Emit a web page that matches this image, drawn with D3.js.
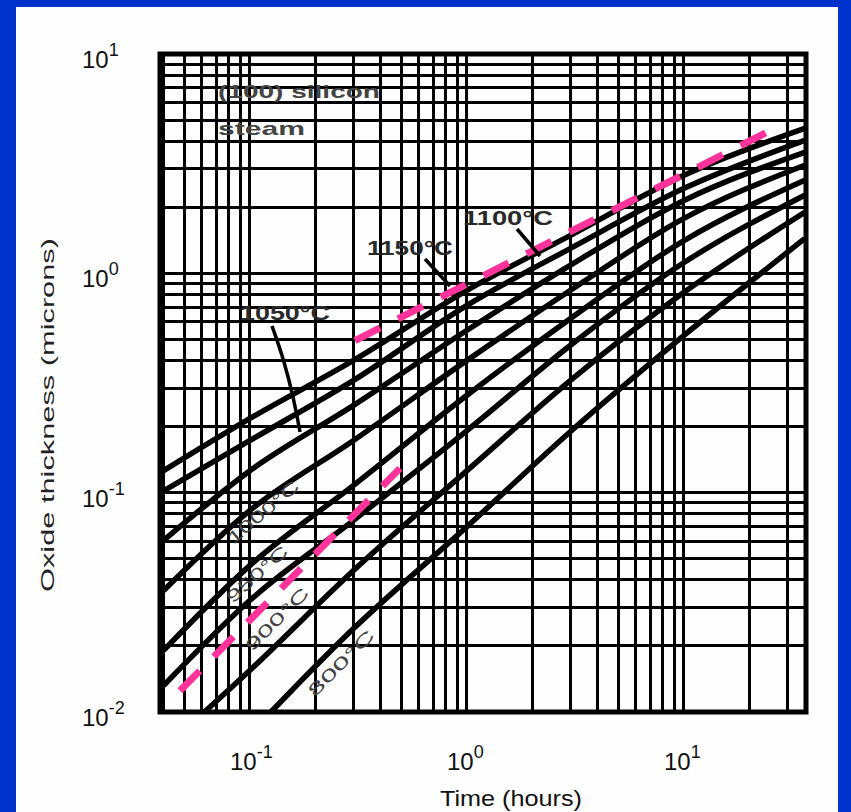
<!DOCTYPE html>
<html>
<head>
<meta charset="utf-8">
<script src="https://cdn.jsdelivr.net/npm/d3@7"></script>
<style>
  body { margin: 0; background: #0033cc; }
  text { font-family: "Liberation Sans", Arial, sans-serif; }
</style>
</head>
<body>
<div id="chart"></div>
<script>
// oxidation time (hours) where the curves were read
var times = [0.04, 0.1, 0.3, 1, 3, 10, 36];

// oxide thickness (microns)
var th1200 = [0.126, 0.218, 0.401, 0.837, 1.49, 2.80, 4.58];
var th1150 = [0.102, 0.173, 0.325, 0.715, 1.30, 2.44, 4.04];
var th1100 = [0.0606, 0.126, 0.250, 0.550, 1.09, 2.15, 3.56];
var th1050 = [0.0358, 0.083, 0.173, 0.401, 0.837, 1.78, 3.11];
var th1000 = [0.0191, 0.0466, 0.108, 0.278, 0.623, 1.41, 2.66];
var th950  = [0.0132, 0.0323, 0.0748, 0.192, 0.470, 1.12, 2.27];
var th900  = [0.0068, 0.0155, 0.0442, 0.126, 0.325, 0.819, 1.90];
var th800  = [0.0032, 0.0080, 0.0240, 0.070, 0.190, 0.521, 1.44];

// pink dashed guides: [time, thickness] end points
var linearGuide    = [[0.0476, 0.0125], [0.491, 0.129]];
var parabolicGuide = [[0.305, 0.494], [26.3, 4.59]];

var xTicks = [0.1, 1, 10];
var xExp = ["-1", "0", "1"];
var yTicks = [0.01, 0.1, 1, 10];
var yExp = ["-2", "-1", "0", "1"];

var W = 851, H = 812;
var margin = {top: 54, right: 45, bottom: 100, left: 160};

var svg = d3.select("#chart").append("svg")
    .attr("width", W)
    .attr("height", H);

// blue slide border + white page
svg.append("rect").attr("width", W).attr("height", H).attr("fill", "#0033cc");
svg.append("rect").attr("x", 16).attr("y", 7).attr("width", 822).attr("height", H - 7).attr("fill", "#fefefe");

var x = d3.scaleLog().domain([0.0385, 36.5]).range([margin.left, W - margin.right]);
var y = d3.scaleLog().domain([0.01, 10]).range([H - margin.bottom, margin.top]);

svg.append("clipPath").attr("id", "plotclip")
  .append("rect")
    .attr("x", x.range()[0]).attr("y", y.range()[1])
    .attr("width", x.range()[1] - x.range()[0])
    .attr("height", y.range()[0] - y.range()[1]);

// log grid
function logGrid(scale) {
  var d = scale.domain(), out = [];
  for (var e = Math.floor(Math.log10(d[0])); e <= Math.ceil(Math.log10(d[1])); e++) {
    for (var k = 1; k < 10; k++) {
      var v = k * Math.pow(10, e);
      if (v >= d[0] && v <= d[1]) out.push(v);
    }
  }
  return out;
}

var grid = svg.append("g").attr("shape-rendering", "crispEdges");
grid.selectAll(".vx").data(logGrid(x)).enter().append("line")
    .attr("x1", function(d) { return x(d); }).attr("x2", function(d) { return x(d); })
    .attr("y1", y.range()[1]).attr("y2", y.range()[0])
    .attr("stroke", "#000").attr("stroke-width", 3);
grid.selectAll(".hy").data(logGrid(y)).enter().append("line")
    .attr("y1", function(d) { return y(d); }).attr("y2", function(d) { return y(d); })
    .attr("x1", x.range()[0]).attr("x2", x.range()[1])
    .attr("stroke", "#000").attr("stroke-width", 3);

// curves
var series = [th1200, th1150, th1100, th1050, th1000, th950, th900, th800];
var line = d3.line()
    .x(function(d) { return x(d[0]); })
    .y(function(d) { return y(d[1]); })
    .curve(d3.curveMonotoneX);

var plot = svg.append("g").attr("clip-path", "url(#plotclip)");
plot.selectAll(".curve").data(series).enter().append("path")
    .attr("d", function(s) { return line(times.map(function(t, i) { return [t, s[i]]; })); })
    .attr("fill", "none")
    .attr("stroke", "#000")
    .attr("stroke-width", 5.5);

plot.selectAll(".guide").data([linearGuide, parabolicGuide]).enter().append("path")
    .attr("d", d3.line().x(function(d) { return x(d[0]); }).y(function(d) { return y(d[1]); }))
    .attr("fill", "none")
    .attr("stroke", "#ff3399")
    .attr("stroke-width", 7)
    .attr("stroke-dasharray", "28,20");

// frame
svg.append("rect")
    .attr("x", x.range()[0]).attr("y", y.range()[1])
    .attr("width", x.range()[1] - x.range()[0])
    .attr("height", y.range()[0] - y.range()[1])
    .attr("fill", "none").attr("stroke", "#000").attr("stroke-width", 5);

// tick labels
xTicks.forEach(function(v, i) {
  var t = svg.append("text").attr("x", x(v) - 20).attr("y", 770)
      .attr("font-size", 24).attr("fill", "#111");
  t.append("tspan").text("10");
  t.append("tspan").attr("dy", -12).attr("font-size", 18).text(xExp[i]);
});
yTicks.forEach(function(v, i) {
  var t = svg.append("text").attr("x", 82).attr("y", y(v) + 14)
      .attr("font-size", 24).attr("fill", "#111");
  t.append("tspan").text("10");
  t.append("tspan").attr("dy", -12).attr("font-size", 18).text(yExp[i]);
});

// axis titles
svg.append("text").attr("x", 440).attr("y", 806)
    .attr("font-size", 22).attr("fill", "#111")
    .attr("textLength", 142).attr("lengthAdjust", "spacingAndGlyphs")
    .text("Time (hours)");
svg.append("text")
    .attr("transform", "translate(54,592) rotate(-90)")
    .attr("font-size", 19).attr("fill", "#222")
    .attr("textLength", 354).attr("lengthAdjust", "spacingAndGlyphs")
    .text("Oxide thickness (microns)");

// annotations
function note(str, px, py, len, size) {
  return svg.append("text").attr("x", px).attr("y", py)
      .attr("font-size", size).attr("font-weight", "bold").attr("fill", "#2a2a2a")
      .attr("textLength", len).attr("lengthAdjust", "spacingAndGlyphs")
      .text(str);
}
note("(100) silicon", 218, 98, 162, 19).attr("fill", "#444");
note("steam", 218, 135, 87, 19).attr("fill", "#444");
note("1100°C", 463, 225, 90, 20);
note("1150°C", 367, 255, 86, 20);
note("1050°C", 240, 320, 90, 20);

var arrows = [
  [[517, 229], [540, 256]],
  [[425, 259], [450, 286]],
  [[272, 326], [284, 360], [294, 400], [300, 432]]
];
svg.selectAll(".arrow").data(arrows).enter().append("path")
    .attr("d", d3.line().curve(d3.curveBasis))
    .attr("fill", "none").attr("stroke", "#000").attr("stroke-width", 3.5);

var rotLabels = [
  {t: "1000°C", x: 263, y: 512, a: -40, len: 88},
  {t: "950°C", x: 257, y: 574, a: -42, len: 76},
  {t: "900°C", x: 277, y: 619, a: -45, len: 82},
  {t: "800°C", x: 341, y: 663, a: -45, len: 86}
];
svg.selectAll(".rl").data(rotLabels).enter().append("text")
    .attr("transform", function(d) { return "translate(" + d.x + "," + d.y + ") rotate(" + d.a + ")"; })
    .attr("x", function(d) { return -d.len / 2; }).attr("dy", 6)
    .attr("font-size", 17).attr("fill", "#444")
    .attr("textLength", function(d) { return d.len; }).attr("lengthAdjust", "spacingAndGlyphs")
    .text(function(d) { return d.t; });
</script>
</body>
</html>
